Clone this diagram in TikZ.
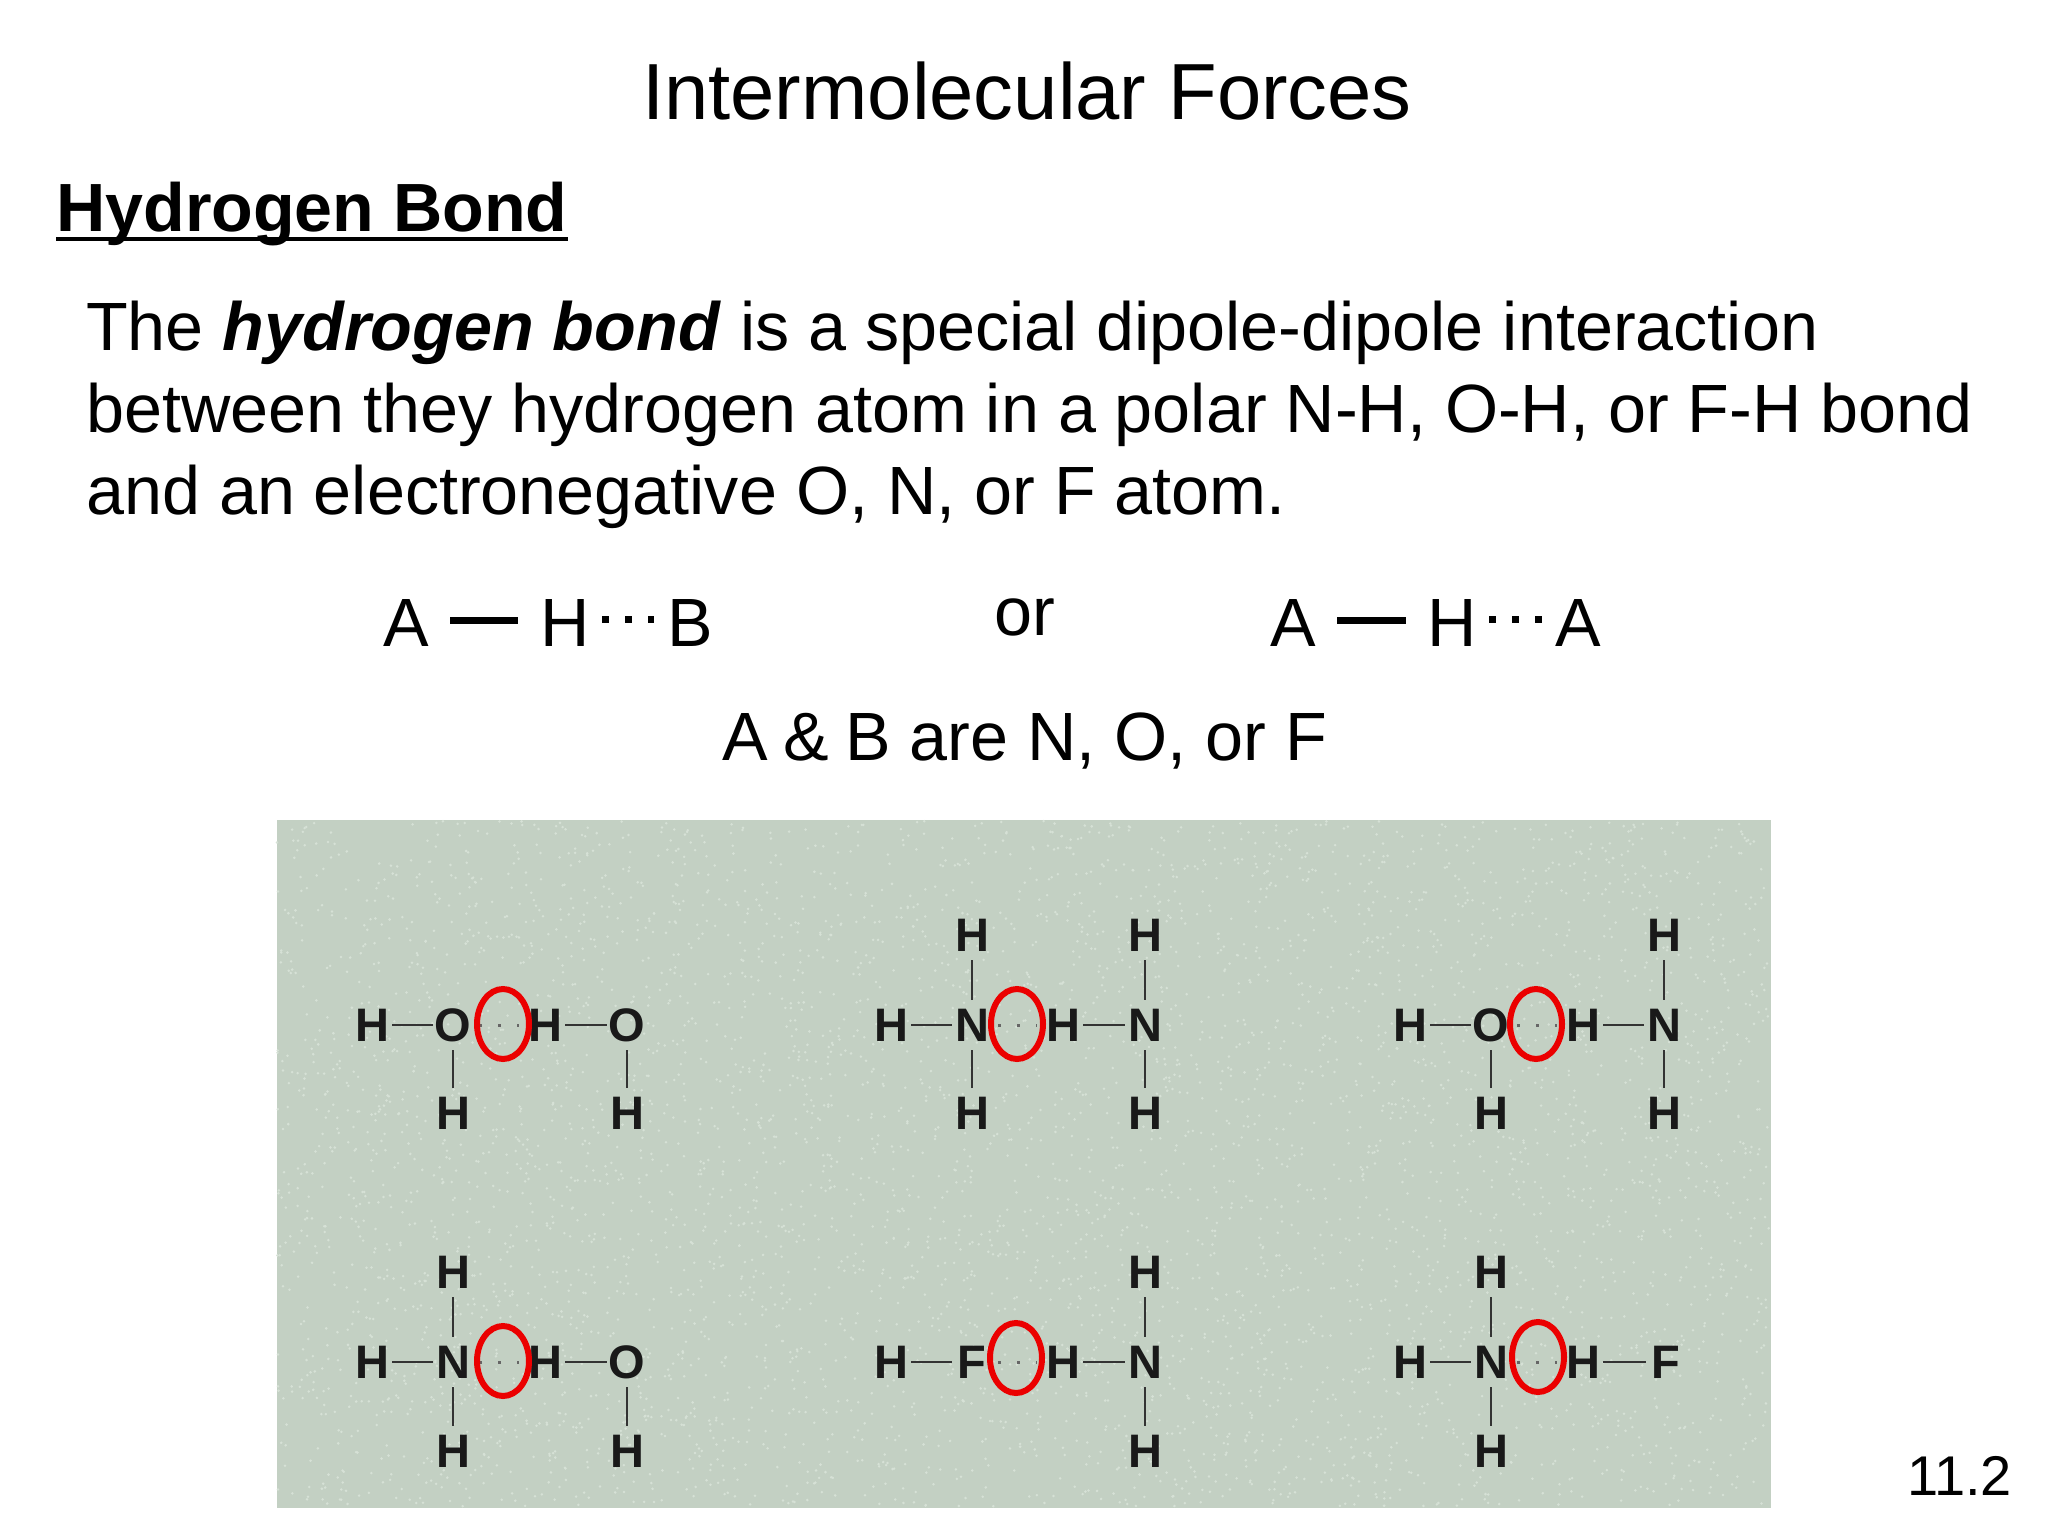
\documentclass[tikz,border=0pt]{standalone}
\usepackage{fontspec}
\setmainfont{Liberation Sans}
\usetikzlibrary{shapes.geometric}
\newcommand{\fsz}[1]{\fontsize{#1}{#1}\selectfont}
\definecolor{panelbg}{RGB}{195,208,195}
\definecolor{fleckc}{RGB}{214,225,214}
\tikzset{
  txt/.style={anchor=base west,inner sep=0pt,text=black,font=\fsz{68.3}},
  atom/.style={inner sep=0pt,minimum width=40pt,minimum height=50pt,text height=33pt,text depth=0pt,text=black!90,font=\fsz{47}\bfseries},
  bond/.style={draw=black!80,line width=2.6pt},
  ring/.style={draw=red!92!black,line width=6pt,ellipse,inner sep=0pt,minimum width=52pt,minimum height=70pt},
  hdots/.style={draw=black!60,line width=3pt,dash pattern=on 3pt off 16pt,shorten <=6pt,shorten >=6pt},
  heavy/.style={line width=7pt,black},
  dots3/.style={line width=7pt,black,dash pattern=on 7pt off 16pt},
}
\begin{document}
\begin{tikzpicture}[x=1pt,y=-1pt]
\useasboundingbox (0,0) rectangle (2048,1536);
\fill[white] (0,0) rectangle (2048,1536);
\node[txt,font=\fsz{79.6}] (title) at (642,120) {Intermolecular Forces};
\node[txt,font=\fsz{68.2}\bfseries] (hb) at (56,231) {Hydrogen Bond};
\draw[line width=4.5pt] ([yshift=-8pt]hb.base west) -- ([yshift=-8pt]hb.base east);
\node[txt] (p1) at (86,350) {The \textbf{\textit{hydrogen bond}} is a special dipole-dipole interaction};
\node[txt] (p2) at (86,432) {between they hydrogen atom in a polar N-H, O-H, or F-H bond};
\node[txt] (p3) at (86,514) {and an electronegative O, N, or F atom.};
% formulas
\node[txt] (fa) at (383,646) {A};
\node[txt] (fh) at (540,646) {H};
\node[txt] (fb) at (667,646) {B};
\coordinate (fd1) at (450,620); \coordinate (fd2) at (518,620);
\draw[heavy] (fd1) -- (fd2);
\coordinate (fe1) at (602,619); \coordinate (fe2) at (654,619);
\draw[dots3] (fe1) -- (fe2);
\node[txt] (or) at (994,635) {or};
\node[txt] (ga) at (1270,646) {A};
\node[txt] (gh) at (1427,646) {H};
\node[txt] (gb) at (1555,646) {A};
\coordinate (gd1) at (1337,620); \coordinate (gd2) at (1406,620);
\draw[heavy] (gd1) -- (gd2);
\coordinate (ge1) at (1489,619); \coordinate (ge2) at (1542,619);
\draw[dots3] (ge1) -- (ge2);
\node[txt] (cap) at (722,760) {A\hspace{-3pt} \& \hspace{-3pt}B are N, O, or F};
\node[txt,font=\fsz{56}] (pg) at (1907,1495) {11.2};
% panel
\fill[panelbg] (277,820) rectangle (1771,1508);
\pgfmathsetseed{4242}
\foreach \i in {1,...,5000}{\fill[fleckc] ({277+rnd*1492},{821+rnd*686}) circle (1.4);}
% molecule 1
\node[atom] (a1) at (372,1025) {H}; \node[atom] (a2) at (453,1025) {O}; \node[atom] (a3) at (453,1113) {H};
\node[atom] (a4) at (545,1025) {H}; \node[atom] (a5) at (627,1025) {O}; \node[atom] (a6) at (627,1113) {H};
\draw[bond] (a1)--(a2); \draw[bond] (a2)--(a3); \draw[bond] (a4)--(a5); \draw[bond] (a5)--(a6);
\draw[hdots] (a2)--(a4);
\node[ring] (r1) at (503,1024) {};
% molecule 2
\node[atom] (b0) at (972,935) {H}; \node[atom] (b1) at (891,1025) {H}; \node[atom] (b2) at (972,1025) {N}; \node[atom] (b3) at (972,1113) {H};
\node[atom] (b7) at (1145,935) {H}; \node[atom] (b4) at (1063,1025) {H}; \node[atom] (b5) at (1145,1025) {N}; \node[atom] (b6) at (1145,1113) {H};
\draw[bond] (b1)--(b2); \draw[bond] (b0)--(b2); \draw[bond] (b2)--(b3); \draw[bond] (b4)--(b5); \draw[bond] (b7)--(b5); \draw[bond] (b5)--(b6);
\draw[hdots] (b2)--(b4);
\node[ring] (r2) at (1017,1024) {};
% molecule 3
\node[atom] (c1) at (1410,1025) {H}; \node[atom] (c2) at (1491,1025) {O}; \node[atom] (c3) at (1491,1113) {H};
\node[atom] (c7) at (1664,935) {H}; \node[atom] (c4) at (1583,1025) {H}; \node[atom] (c5) at (1664,1025) {N}; \node[atom] (c6) at (1664,1113) {H};
\draw[bond] (c1)--(c2); \draw[bond] (c2)--(c3); \draw[bond] (c4)--(c5); \draw[bond] (c7)--(c5); \draw[bond] (c5)--(c6);
\draw[hdots] (c2)--(c4);
\node[ring] (r3) at (1536,1024) {};
% molecule 4
\node[atom] (d0) at (453,1272) {H}; \node[atom] (d1) at (372,1362) {H}; \node[atom] (d2) at (453,1362) {N}; \node[atom] (d3) at (453,1451) {H};
\node[atom] (d4) at (545,1362) {H}; \node[atom] (d5) at (627,1362) {O}; \node[atom] (d6) at (627,1451) {H};
\draw[bond] (d1)--(d2); \draw[bond] (d0)--(d2); \draw[bond] (d2)--(d3); \draw[bond] (d4)--(d5); \draw[bond] (d5)--(d6);
\draw[hdots] (d2)--(d4);
\node[ring] (r4) at (503,1361) {};
% molecule 5
\node[atom] (e1) at (891,1362) {H}; \node[atom] (e2) at (972,1362) {F};
\node[atom] (e7) at (1145,1272) {H}; \node[atom] (e4) at (1063,1362) {H}; \node[atom] (e5) at (1145,1362) {N}; \node[atom] (e6) at (1145,1451) {H};
\draw[bond] (e1)--(e2); \draw[bond] (e4)--(e5); \draw[bond] (e7)--(e5); \draw[bond] (e5)--(e6);
\draw[hdots] (e2)--(e4);
\node[ring] (r5) at (1016,1358) {};
% molecule 6
\node[atom] (f0) at (1491,1272) {H}; \node[atom] (f1) at (1410,1362) {H}; \node[atom] (f2) at (1491,1362) {N}; \node[atom] (f3) at (1491,1451) {H};
\node[atom] (f4) at (1583,1362) {H}; \node[atom] (f5) at (1666,1362) {F};
\draw[bond] (f1)--(f2); \draw[bond] (f0)--(f2); \draw[bond] (f2)--(f3); \draw[bond] (f4)--(f5);
\draw[hdots] (f2)--(f4);
\node[ring] (r6) at (1538,1357) {};
\end{tikzpicture}
\end{document}
